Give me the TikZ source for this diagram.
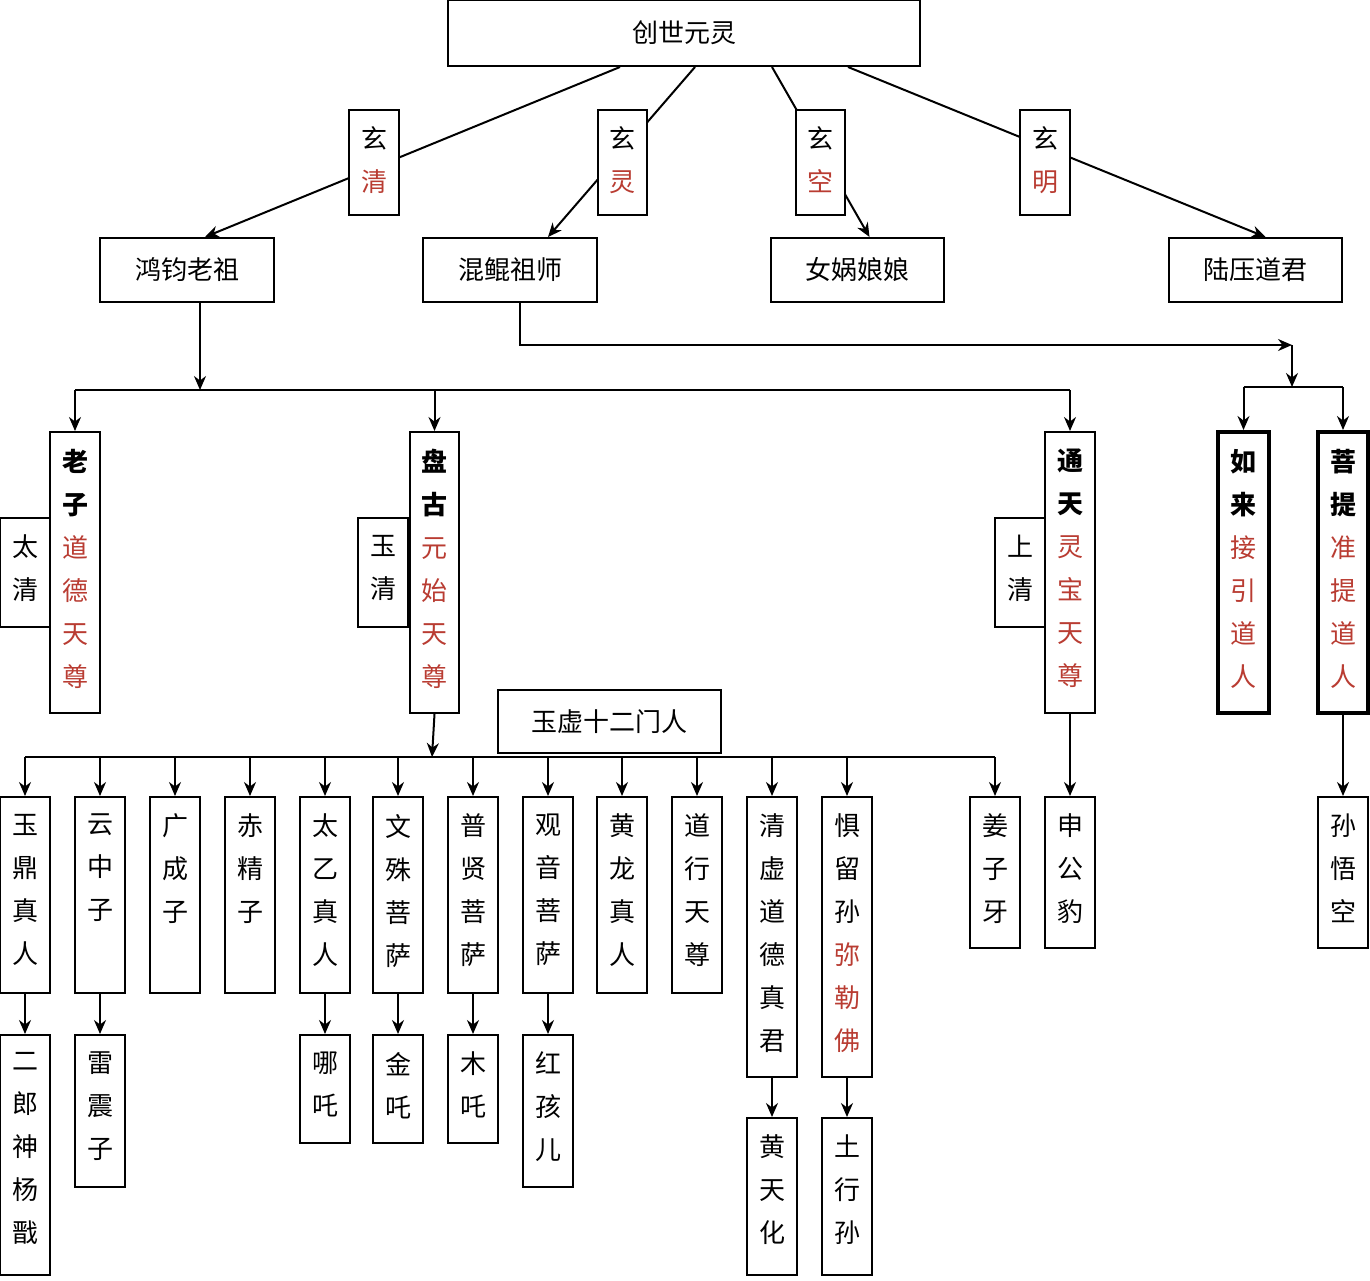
\documentclass[tikz,border=0pt]{standalone}
\usepackage{fontspec}
\newfontfamily\cjk{Noto Sans CJK SC}
\usetikzlibrary{arrows.meta}
\definecolor{rd}{RGB}{185,60,50}
\newcommand\R[1]{\textcolor{rd}{#1}}
\newcommand\B[1]{\textbf{#1}}
\newcommand\cjkf{\cjk\fontsize{13}{21.5}\selectfont}
\tikzset{box/.style={draw,line width=1pt,inner sep=0pt,fill=white,font=\cjkf},
 arr/.style={line width=1pt,-{Stealth[length=7pt,width=6pt]}},
 ln/.style={line width=1pt}}
\newcommand\bx[7][]{\pgfmathsetmacro\bw{(#5-#3)*0.5}\pgfmathsetmacro\bh{(#6-#4)*0.5}%
 \node[box,minimum width=\bw pt,minimum height=\bh pt,#1] (#2) at ({(#3+#5)/2},{(#4+#6)/2}) {#7};}
\newcommand\vbx[7][]{\pgfmathsetmacro\bw{(#5-#3)*0.5}\pgfmathsetmacro\bh{(#6-#4)*0.5}%
 \node[box,minimum width=\bw pt,minimum height=\bh pt,#1] (#2) at ({(#3+#5)/2},{(#4+#6)/2}) {\parbox[c][\bh pt][t]{\bw pt}{\centering\vspace*{8.5pt}#7\par}};}
\begin{document}
\begin{tikzpicture}[x=0.5pt,y=-0.5pt]
\useasboundingbox[fill=white] (0,0) rectangle (1370,1280);
% top level
\bx{top}{448}{0}{920}{66}{创世元灵}
\bx{hj}{100}{238}{274}{302}{鸿钧老祖}
\bx{hk}{423}{238}{597}{302}{混鲲祖师}
\bx{nw}{771}{238}{944}{302}{女娲娘娘}
\bx{ly}{1169}{238}{1342}{302}{陆压道君}
\draw[arr] ([xshift=-32pt]top.south) -- ([xshift=9pt]hj.north);
\draw[arr] ([xshift=5.5pt]top.south) -- ([xshift=19pt]hk.north);
\draw[arr] ([xshift=44pt]top.south) -- ([xshift=6pt]nw.north);
\draw[arr] ([xshift=82pt]top.south) -- ([xshift=5pt]ly.north);
\vbx{xq}{349}{110}{399}{215}{玄\\\R{清}}
\vbx{xl}{598}{110}{647}{215}{玄\\\R{灵}}
\vbx{xk}{796}{110}{845}{215}{玄\\\R{空}}
\vbx{xm}{1020}{110}{1070}{215}{玄\\\R{明}}
% second level
\vbx{lz}{50}{432}{100}{713}{\B{老}\\\B{子}\\\R{道}\\\R{德}\\\R{天}\\\R{尊}}
\vbx{tq}{0}{518}{50}{627}{太\\清}
\vbx{pg}{410}{432}{459}{713}{\B{盘}\\\B{古}\\\R{元}\\\R{始}\\\R{天}\\\R{尊}}
\vbx{yq}{358}{518}{408}{627}{玉\\清}
\vbx{tt}{1045}{432}{1095}{713}{\B{通}\\\B{天}\\\R{灵}\\\R{宝}\\\R{天}\\\R{尊}}
\vbx{sq}{995}{518}{1045}{627}{上\\清}
\vbx[line width=2pt]{rl}{1218}{432}{1269}{713}{\B{如}\\\B{来}\\\R{接}\\\R{引}\\\R{道}\\\R{人}}
\vbx[line width=2pt]{pt}{1318}{432}{1368}{713}{\B{菩}\\\B{提}\\\R{准}\\\R{提}\\\R{道}\\\R{人}}
\coordinate (b1) at (200,390);
\draw[arr] ([xshift=6.5pt]hj.south) -- (b1);
\draw[ln] (lz.north|-b1) -- (tt.north|-b1);
\foreach \n in {lz,pg,tt} \draw[arr] (\n.north|-b1) -- (\n.north);
\coordinate (b2) at (1292,345);
\coordinate (b3) at (1292,387);
\draw[arr] ([xshift=5pt]hk.south) |- (b2);
\draw[arr] (b2) -- (b3);
\draw[ln] (rl.north|-b3) -- (pt.north|-b3);
\foreach \n in {rl,pt} \draw[arr] (\n.north|-b3) -- (\n.north);
% disciples
\bx{yx}{498}{690}{721}{753}{玉虚十二门人}
\vbx{d1}{0}{797}{50}{993}{玉\\鼎\\真\\人}
\vbx{d2}{75}{797}{125}{993}{云\\中\\子}
\vbx{d3}{150}{797}{200}{993}{广\\成\\子}
\vbx{d4}{225}{797}{275}{993}{赤\\精\\子}
\vbx{d5}{300}{797}{350}{993}{太\\乙\\真\\人}
\vbx{d6}{373}{797}{423}{993}{文\\殊\\菩\\萨}
\vbx{d7}{448}{797}{498}{993}{普\\贤\\菩\\萨}
\vbx{d8}{523}{797}{573}{993}{观\\音\\菩\\萨}
\vbx{d9}{597}{797}{647}{993}{黄\\龙\\真\\人}
\vbx{d10}{672}{797}{722}{993}{道\\行\\天\\尊}
\vbx{d11}{747}{797}{797}{1077}{清\\虚\\道\\德\\真\\君}
\vbx{d12}{822}{797}{872}{1077}{惧\\留\\孙\\\R{弥}\\\R{勒}\\\R{佛}}
\vbx{d13}{970}{797}{1020}{948}{姜\\子\\牙}
\vbx{sg}{1045}{797}{1095}{948}{申\\公\\豹}
\vbx{swk}{1318}{797}{1368}{948}{孙\\悟\\空}
\coordinate (b4) at (432,757);
\draw[arr] (pg.south) -- (b4);
\draw[ln] (d1.north|-b4) -- (d13.north|-b4);
\foreach \n in {d1,d2,d3,d4,d5,d6,d7,d8,d9,d10,d11,d12,d13} \draw[arr] (\n.north|-b4) -- (\n.north);
\draw[arr] (tt.south) -- (sg.north);
\draw[arr] (pt.south) -- (swk.north);
% third generation
\vbx{c1}{0}{1035}{50}{1275}{二\\郎\\神\\杨\\戬}
\vbx{c2}{75}{1035}{125}{1187}{雷\\震\\子}
\vbx{c5}{300}{1035}{350}{1143}{哪\\吒}
\vbx{c6}{373}{1035}{423}{1143}{金\\吒}
\vbx{c7}{448}{1035}{498}{1143}{木\\吒}
\vbx{c8}{523}{1035}{573}{1187}{红\\孩\\儿}
\vbx{c11}{747}{1118}{797}{1275}{黄\\天\\化}
\vbx{c12}{822}{1118}{872}{1275}{土\\行\\孙}
\foreach \a/\b in {d1/c1,d2/c2,d5/c5,d6/c6,d7/c7,d8/c8,d11/c11,d12/c12} \draw[arr] (\a.south) -- (\b.north);
\end{tikzpicture}
\end{document}
